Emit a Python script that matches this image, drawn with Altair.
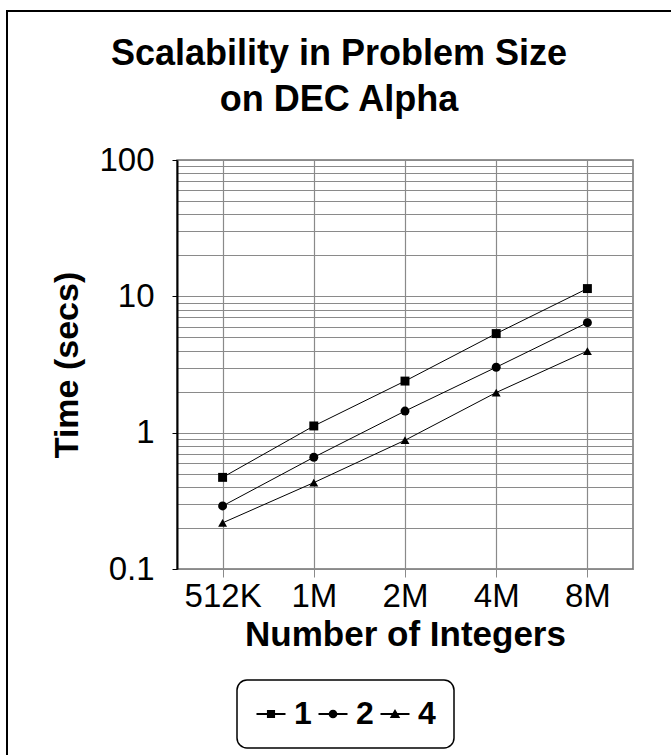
import altair as alt
import pandas as pd

# ---- data ----
sizes = ["512K", "1M", "2M", "4M", "8M"]
procs = ["1", "2", "4"]
time_1 = [0.47, 1.12, 2.39, 5.33, 11.4]
time_2 = [0.29, 0.66, 1.44, 3.02, 6.41]
time_4 = [0.218, 0.43, 0.88, 1.97, 3.97]
y_ticks = [m * 10.0 ** e for e in (-1, 0, 1) for m in range(1, 10)] + [100.0]

rows = []
for p, series in zip(procs, [time_1, time_2, time_4]):
    for s, t in zip(sizes, series):
        rows.append({"size": s, "time": t, "procs": p})
df = pd.DataFrame(rows)

FONT = "Liberation Sans"
GRID = "#8a8a8a"
is_decade = "abs(log(datum.value)/LN10 - round(log(datum.value)/LN10)) < 0.01"

x_enc = alt.X(
    "size:O",
    sort=sizes,
    scale=alt.Scale(type="point", padding=0.5),
    axis=alt.Axis(
        title="Number of Integers",
        labelAngle=0,
        labelFontSize=33,
        labelPadding=3,
        tickSize=8,
        tickColor=GRID,
        domainColor=GRID,
        grid=True,
        gridColor=GRID,
        gridWidth=1.2,
        titleFontSize=35,
        titleFontWeight="bold",
        titlePadding=4,
    ),
)
y_enc = alt.Y(
    "time:Q",
    scale=alt.Scale(type="log", domain=[0.1, 100], nice=False),
    axis=alt.Axis(
        title="Time (secs)",
        values=y_ticks,
        labelExpr=is_decade + " ? format(datum.value, '~g') : ''",
        labelOverlap=False,
        labelFontSize=33,
        labelPadding=18,
        tickSize=5,
        tickColor="black",
        tickOpacity={"condition": {"test": is_decade, "value": 1}, "value": 0},
        domainColor="black",
        domainWidth=2,
        grid=True,
        gridColor=GRID,
        gridWidth=1.2,
        titleFontSize=34,
        titleFontWeight="bold",
        titlePadding=14,
    ),
)

lines = alt.Chart(df).mark_line(color="black", strokeWidth=1).encode(
    x=x_enc, y=y_enc, detail="procs:N"
)

points = alt.Chart(df).mark_point(filled=True, color="black", size=80, opacity=1).encode(
    x=x_enc,
    y=y_enc,
    shape=alt.Shape(
        "procs:N",
        scale=alt.Scale(domain=procs, range=["square", "circle", "triangle-up"]),
        legend=None,
    ),
)

legend_paths = [
    "M-1,-0.07H1V0.07H-1Z M-0.28,-0.28H0.28V0.28H-0.28Z",
    "M-1,-0.07H1V0.07H-1Z M0.3,0A0.3,0.3,0,1,1,-0.3,0A0.3,0.3,0,1,1,0.3,0Z",
    "M-1,-0.07H1V0.07H-1Z M0,-0.34L0.36,0.28H-0.36Z",
]

legend_layer = alt.Chart(df).mark_point(filled=True, color="black", opacity=0).encode(
    x=x_enc,
    y=y_enc,
    shape=alt.Shape(
        "procs:N",
        scale=alt.Scale(domain=procs, range=legend_paths),
        legend=alt.Legend(
            title=None,
            orient="none",
            direction="horizontal",
            legendX=60,
            legendY=520,
            strokeColor="black",
            cornerRadius=10,
            padding=18,
            symbolSize=841,
            symbolOpacity=1,
            symbolFillColor="black",
            symbolStrokeWidth=0,
            labelFontSize=32,
            labelFontWeight="bold",
            labelFont=FONT,
            labelColor="black",
            labelOffset=7,
            columnPadding=5,
        ),
    ),
)

frame = alt.Chart(df).mark_rect(filled=False, stroke="black", strokeWidth=2).encode(
    x=alt.value(-170), x2=alt.value(600), y=alt.value(-149), y2=alt.value(700)
)

chart = (
    alt.layer(frame, lines, points, legend_layer)
    .resolve_scale(shape="independent")
    .resolve_legend(shape="independent")
    .properties(
        width=456,
        height=409,
        autosize=alt.AutoSizeParams(type="none"),
        padding={"left": 177, "top": 160, "right": 38, "bottom": 186},
        background="white",
        title=alt.TitleParams(
            ["Scalability in Problem Size", "on DEC Alpha"],
            anchor="middle",
            baseline="top",
            dx=-66,
            dy=159,
            offset=50,
            fontSize=36,
            fontWeight="bold",
            font=FONT,
            lineHeight=46,
            color="black",
        ),
    )
    .configure_axis(labelFont=FONT, titleFont=FONT, labelColor="black", titleColor="black")
    .configure_legend(strokeWidth=1.5)
    .configure_view(stroke="#707070", strokeWidth=1.5)
)

chart.save("out.html", embed_options={"renderer": "svg", "actions": False})
